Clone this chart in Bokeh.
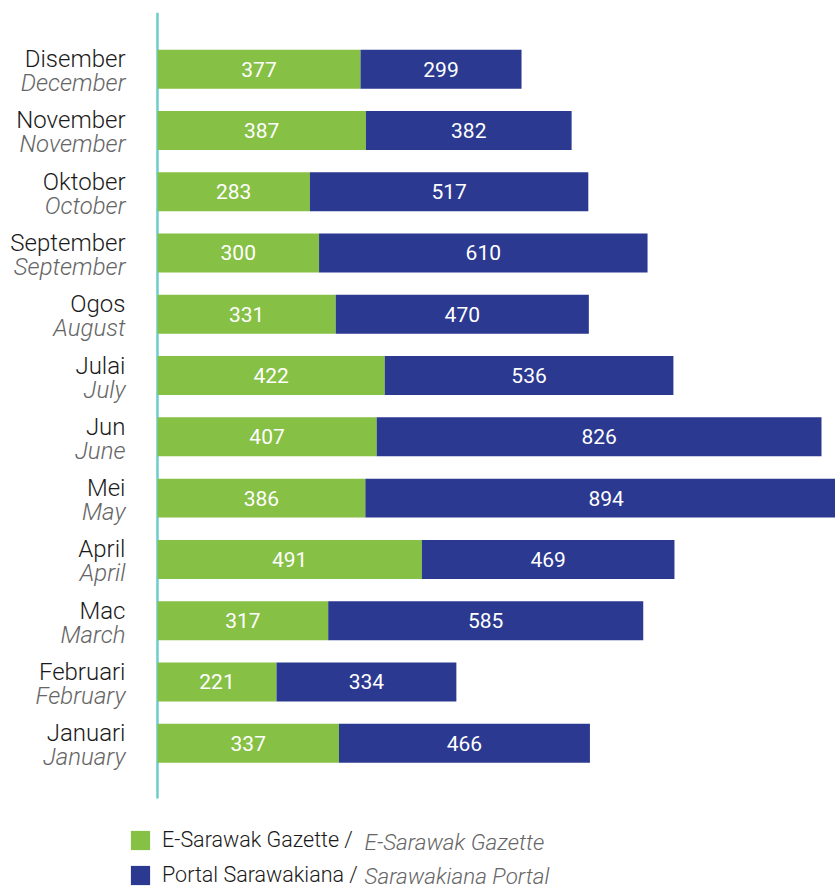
from bokeh.plotting import figure
from bokeh.models import ColumnDataSource, Range1d, LabelSet, Legend, LegendItem, Label
from bokeh.core.properties import value
from bokeh.embed import file_html
from bokeh.resources import INLINE

months_ms = ["Januari", "Februari", "Mac", "April", "Mei", "Jun", "Julai", "Ogos",
             "September", "Oktober", "November", "Disember"]
months_en = ["January", "February", "March", "April", "May", "June", "July", "August",
             "September", "October", "November", "December"]
gazette = [337, 221, 317, 491, 386, 407, 422, 331, 300, 283, 387, 377]
portal = [466, 334, 585, 469, 894, 826, 536, 470, 610, 517, 382, 299]
series_ms = ["E-Sarawak Gazette /", "Portal Sarawakiana /"]
series_en = ["E-Sarawak Gazette", "Sarawakiana Portal"]

GREEN = "#86c045"
BLUE = "#2b3990"
TEAL = "#6dcdcd"
FONT = "Roboto"
LIGHT = "Roboto Light"

ypos = list(range(len(months_ms)))
src = ColumnDataSource(dict(
    y=ypos,
    ms=months_ms,
    en=months_en,
    g_end=gazette,
    p_end=[a + b for a, b in zip(gazette, portal)],
    zero=[0] * len(ypos),
    g_mid=[a / 2 for a in gazette],
    p_mid=[a + b / 2 for a, b in zip(gazette, portal)],
    g_txt=[str(v) for v in gazette],
    p_txt=[str(v) for v in portal],
))

p = figure(width=835, height=888, output_backend="svg", toolbar_location=None,
           x_range=Range1d(-291.5, 1259), y_range=Range1d(-2.37, 12.12),
           x_axis_type=None, y_axis_type=None,
           min_border_left=0, min_border_right=0, min_border_top=0, min_border_bottom=0)
p.outline_line_color = None
p.grid.visible = False

# axis line (teal) alongside the bars
p.segment(x0=[0], y0=[-0.9], x1=[0], y1=[11.92], line_color=TEAL, line_width=2.5)

r1 = p.hbar(y="y", left="zero", right="g_end", height=0.636, source=src,
            fill_color=GREEN, line_color=None)
r2 = p.hbar(y="y", left="g_end", right="p_end", height=0.636, source=src,
            fill_color=BLUE, line_color=None)

p.text(x="g_mid", y="y", text="g_txt", source=src, text_color="white",
       text_font=value(FONT), text_font_size="21px", text_align="center",
       text_baseline="middle")
p.text(x="p_mid", y="y", text="p_txt", source=src, text_color="white",
       text_font=value(FONT), text_font_size="21px", text_align="center",
       text_baseline="middle")

p.add_layout(LabelSet(x="zero", y="y", text="ms", source=src, x_offset=-32, y_offset=10,
                      text_align="right", text_baseline="middle",
                      text_font=value(LIGHT), text_font_size="24px", text_color="#1a1a1a"))
p.add_layout(LabelSet(x="zero", y="y", text="en", source=src, x_offset=-32, y_offset=-14,
                      text_align="right", text_baseline="middle",
                      text_font=value(LIGHT), text_font_size="24px", text_font_style="italic",
                      text_color="#666666"))

legend = Legend(items=[LegendItem(label=series_ms[0], renderers=[r1]),
                       LegendItem(label=series_ms[1], renderers=[r2])],
                location=(128, 1), orientation="vertical",
                glyph_width=24, glyph_height=24, spacing=10, padding=0, margin=0,
                label_standoff=10, label_text_font=LIGHT, label_text_font_size="21.5px",
                label_text_color="#1a1a1a", label_height=24,
                border_line_color=None, background_fill_alpha=0)
p.add_layout(legend)

for i, t in enumerate(series_en):
    p.add_layout(Label(x=364, y=47 - 34 * i, x_units="screen", y_units="screen",
                       text=t, text_font=LIGHT, text_font_size="22.5px",
                       text_font_style="italic", text_color="#666666",
                       text_baseline="middle"))

open("out.html", "w").write(file_html(p, INLINE))
